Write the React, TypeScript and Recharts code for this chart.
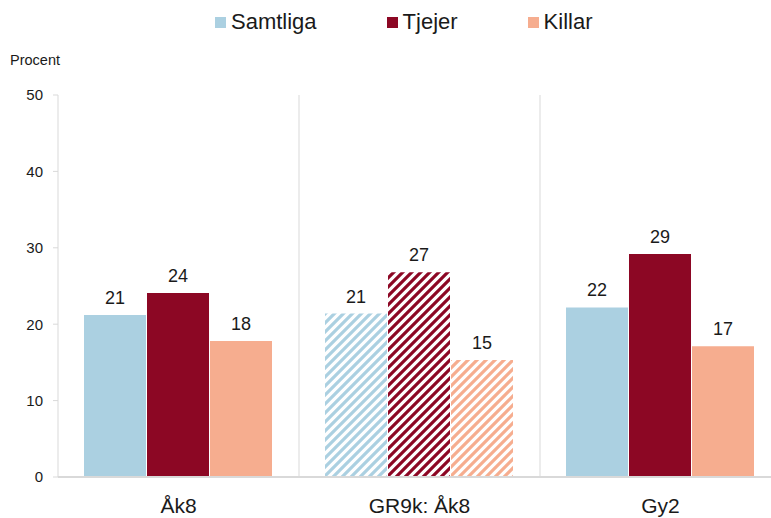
import React from "react";
import { BarChart, Bar, XAxis, YAxis, CartesianGrid, Cell, LabelList } from "recharts";

const categories = ["Åk8", "GR9k: Åk8", "Gy2"];
const samtliga = [21.2, 21.4, 22.2];
const tjejer = [24.1, 26.8, 29.2];
const killar = [17.8, 15.3, 17.1];
const hatched = [false, true, false];
const yTicks = [0, 10, 20, 30, 40, 50];

const seriesNames = ["Samtliga", "Tjejer", "Killar"];
const seriesKeys = ["samtliga", "tjejer", "killar"];
const colors = ["#abd0e1", "#8c0724", "#f6ad8f"];

const data = categories.map((c, i) => ({
  name: c,
  samtliga: samtliga[i],
  tjejer: tjejer[i],
  killar: killar[i],
}));

const FONT = "'Liberation Sans', Arial, sans-serif";
const TEXT = "#1a1a1a";
const GRID = "#d9d9d9";

export default function App() {
  return (
    <div
      style={{
        position: "absolute",
        left: 0,
        top: 0,
        width: 771,
        height: 518,
        overflow: "hidden",
        background: "#fff",
        fontFamily: FONT,
      }}
    >
      <div
        style={{
          position: "absolute",
          left: 215,
          top: 9,
          display: "flex",
          gap: 70,
          alignItems: "center",
          fontSize: 22,
          color: TEXT,
          whiteSpace: "nowrap",
        }}
      >
        {seriesNames.map((n, i) => (
          <div key={n} style={{ display: "flex", alignItems: "center", gap: 5 }}>
            <span style={{ width: 11, height: 11, background: colors[i], display: "inline-block" }} />
            <span>{n}</span>
          </div>
        ))}
      </div>
      <div
        style={{
          position: "absolute",
          left: 10,
          top: 52,
          fontSize: 14.5,
          color: TEXT,
        }}
      >
        Procent
      </div>
      <div style={{ position: "absolute", left: 0, top: 0 }}>
        <BarChart
          width={790}
          height={518}
          data={data}
          margin={{ top: 95, right: 9, bottom: 6, left: 0 }}
          barCategoryGap={26}
          barGap={1}
        >
          <defs>
            {colors.map((c, i) => (
              <pattern
                key={i}
                id={`hatch${i}`}
                patternUnits="userSpaceOnUse"
                width={9}
                height={9}
              >
                <rect width={9} height={9} fill="#fff" />
                <path
                  d="M0,9 L9,0 M-2,2 L2,-2 M7,11 L11,7"
                  stroke={c}
                  strokeWidth={3.2}
                />
              </pattern>
            ))}
          </defs>
          <CartesianGrid
            horizontal={false}
            vertical={true}
            stroke={GRID}
            verticalCoordinatesGenerator={({ offset }: any) =>
              [1, 2, 3].map((i) => offset.left + (i * offset.width) / categories.length)
            }
          />
          <XAxis
            dataKey="name"
            height={35}
            tickLine={false}
            tickSize={0}
            tickMargin={21}
            axisLine={{ stroke: GRID, strokeWidth: 2 }}
            tick={{ fill: TEXT, fontSize: 21, fontFamily: FONT }}
          />
          <YAxis
            width={58}
            domain={[0, 50]}
            ticks={yTicks}
            interval={0}
            tickSize={5}
            tickMargin={10}
            axisLine={{ stroke: GRID }}
            tickLine={{ stroke: GRID }}
            tick={{ fill: TEXT, fontSize: 15, fontFamily: FONT }}
          />
          {seriesKeys.map((k, si) => (
            <Bar key={k} dataKey={k} name={seriesNames[si]} fill={colors[si]} isAnimationActive={false}>
              {data.map((d, i) => (
                <Cell key={i} fill={hatched[i] ? `url(#hatch${si})` : colors[si]} />
              ))}
              <LabelList
                dataKey={k}
                position="top"
                offset={11}
                formatter={(v: any) => Math.round(Number(v))}
                style={{ fill: TEXT, fontSize: 18, fontFamily: FONT }}
              />
            </Bar>
          ))}
        </BarChart>
      </div>
    </div>
  );
}
